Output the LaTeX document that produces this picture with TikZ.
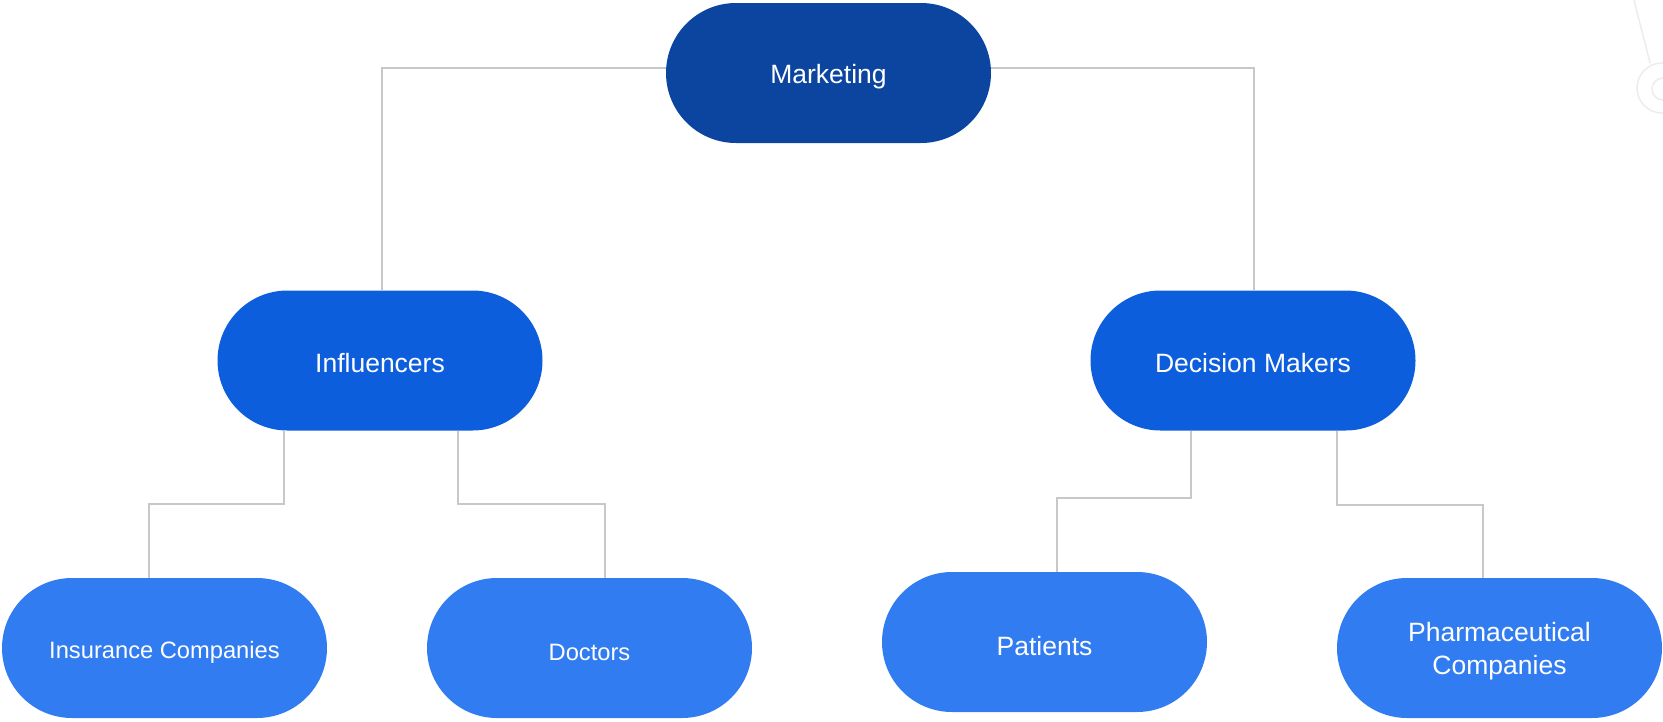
\documentclass[tikz,border=0pt]{standalone}
\usepackage{fontspec}
\setmainfont{Liberation Sans}
\definecolor{cTop}{HTML}{0B45A0}
\definecolor{cMid}{HTML}{0D5EDD}
\definecolor{cLow}{HTML}{327CF2}
\definecolor{cLine}{HTML}{C8C8C8}
\definecolor{cDeco}{HTML}{EDEDED}
\begin{document}
\begin{tikzpicture}[x=1pt,y=-1pt,
  pill/.style={fill=#1, draw=none, rounded corners=70pt, minimum width=325pt, minimum height=140pt, inner sep=0pt},
  ptext/.style={text=white, align=center, inner sep=0pt, font=\fontsize{26.5}{33}\selectfont},
  stext/.style={ptext, font=\fontsize{23.7}{30}\selectfont},
  link/.style={draw=cLine, line width=2pt},
  deco/.style={draw=cDeco, line width=1.6pt}]
\useasboundingbox (0,0) rectangle (1663,721);
% faint decoration top right
\draw[deco] (1662,88) circle (25);
\draw[deco] (1663,89) circle (11);
\coordinate (d0) at (1634,0);
\coordinate (d1) at (1650,63);
\draw[deco] (d0) -- (d1);
% nodes
\node[pill=cTop] (mk) at (828.5,73) {};
\node[pill=cMid] (inf) at (380,360.5) {};
\node[pill=cMid] (dm) at (1253,360.5) {};
\node[pill=cLow] (ins) at (164.5,648) {};
\node[pill=cLow] (doc) at (589.5,648) {};
\node[pill=cLow] (pat) at (1044.5,642) {};
\node[pill=cLow] (pha) at (1499.5,648) {};
% texts
\node[ptext] (mkT) at ([yshift=-4pt]mk.center) {Marketing};
\node[ptext] (infT) at ([yshift=-3pt]inf.center) {Influencers};
\node[ptext] (dmT) at ([yshift=-3pt]dm.center) {Decision Makers};
\node[stext] (insT) at ([yshift=-4pt]ins.center) {Insurance Companies};
\node[stext] (docT) at ([yshift=-4pt]doc.center) {Doctors};
\node[ptext] (patT) at ([yshift=-4pt]pat.center) {Patients};
\node[ptext] (phaT) at ([yshift=-3pt]pha.center) {Pharmaceutical\\Companies};
% connectors
\draw[link] ([yshift=5pt]mk.west) -| ([xshift=2pt]inf.north);
\draw[link] ([yshift=5pt]mk.east) -| ([xshift=0.5pt]dm.north);
\draw[link] ([xshift=-96pt]inf.south) -- ++(0,-73pt) -| ([xshift=-15.5pt]ins.north);
\draw[link] ([xshift=78pt]inf.south) -- ++(0,-73pt) -| ([xshift=15.5pt]doc.north);
\draw[link] ([xshift=-62pt]dm.south) -- ++(0,-67pt) -| ([xshift=12.5pt]pat.north);
\draw[link] ([xshift=84pt]dm.south) -- ++(0,-74pt) -| ([xshift=-16.5pt]pha.north);
\end{tikzpicture}
\end{document}
